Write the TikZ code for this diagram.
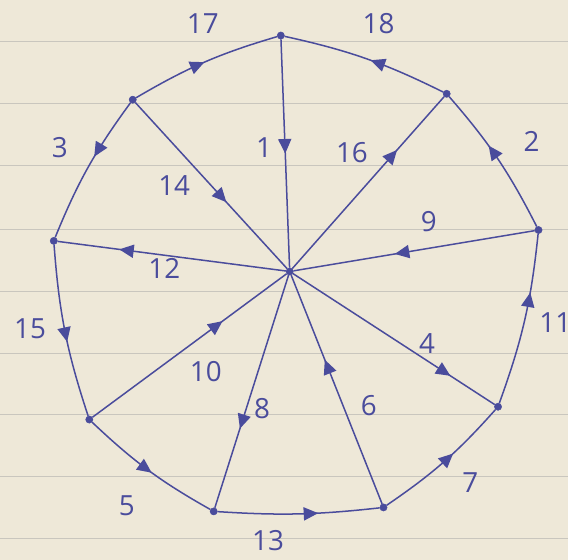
\documentclass[tikz,border=0pt]{standalone}
\usepackage{fontspec}
\setmainfont{Open Sans}
\usetikzlibrary{arrows.meta,decorations.markings}
\definecolor{ink}{HTML}{4A4C9C}
\definecolor{paper}{HTML}{EEE8D8}
\definecolor{ruleline}{HTML}{C9C6BE}

\begin{document}
\begin{tikzpicture}[
    x=0.03cm, y=-0.03cm,
    vtx/.style={circle, fill=ink, draw=ink, inner sep=0pt, minimum size=2.2mm},
    edge/.style={draw=ink, line width=1.3pt},
    mid/.style={postaction={decorate}, decoration={markings, mark=at position #1 with {\arrow{Triangle[length=4.4mm, width=4mm]}}}},
    num/.style={text=ink, font=\fontsize{24}{28}\selectfont}
  ]
    \fill[paper] (0,0) rectangle (575,567);
    \draw[ruleline, line width=0.8pt] (0,42) -- (575,42) (0,105) -- (575,105) (0,168) -- (575,168)
      (0,232) -- (575,232) (0,295) -- (575,295) (0,358) -- (575,358)
      (0,420) -- (575,420) (0,483) -- (575,483) (0,545) -- (575,545);

    \node[vtx] (c) at (293,275) {};
    \node[vtx] (t) at (284,36) {};
    \node[vtx] (ur) at (452,95) {};
    \node[vtx] (r) at (545,233) {};
    \node[vtx] (lr) at (504,412) {};
    \node[vtx] (br) at (388,514) {};
    \node[vtx] (b) at (216,518) {};
    \node[vtx] (ll) at (90,425) {};
    \node[vtx] (l) at (54,244) {};
    \node[vtx] (ul) at (134,101) {};

    \draw[edge, mid=0.5] (ul) to[bend left=7] (t);
    \draw[edge, mid=0.47] (ur) to[bend right=7] (t);
    \draw[edge, mid=0.6] (r) to[bend right=7] (ur);
    \draw[edge, mid=0.66] (lr) to[bend right=7] (r);
    \draw[edge, mid=0.58] (br) to[bend right=7] (lr);
    \draw[edge, mid=0.62] (b) to[bend right=5] (br);
    \draw[edge, mid=0.53] (ll) to[bend right=7] (b);
    \draw[edge, mid=0.56] (l) to[bend right=7] (ll);
    \draw[edge, mid=0.42] (ul) to[bend right=7] (l);

    \draw[edge, mid=0.5] (t) -- (c);
    \draw[edge, mid=0.6] (ul) -- (c);
    \draw[edge, mid=0.73] (c) -- (l);
    \draw[edge, mid=0.69] (c) -- (ur);
    \draw[edge, mid=0.58] (r) -- (c);
    \draw[edge, mid=0.78] (c) -- (lr);
    \draw[edge, mid=0.63] (br) -- (c);
    \draw[edge, mid=0.66] (c) -- (b);
    \draw[edge, mid=0.67] (ll) -- (c);

    \node[num] (n1) at (267,150) {1};
    \node[num] (n2) at (538,143) {2};
    \node[num] (n3) at (60,150) {3};
    \node[num] (n4) at (432,348) {4};
    \node[num] (n5) at (128,512) {5};
    \node[num] (n6) at (373,411) {6};
    \node[num] (n7) at (476,489) {7};
    \node[num] (n8) at (265,414) {8};
    \node[num] (n9) at (434,224) {9};
    \node[num] (n10) at (208,376) {10};
    \node[num] (n11) at (562,327) {11};
    \node[num] (n12) at (166,272) {12};
    \node[num] (n13) at (271,548) {13};
    \node[num] (n14) at (176,188) {14};
    \node[num] (n15) at (30,333) {15};
    \node[num] (n16) at (356,155) {16};
    \node[num] (n17) at (205,24) {17};
    \node[num] (n18) at (383,24) {18};
  \end{tikzpicture}
\end{document}
